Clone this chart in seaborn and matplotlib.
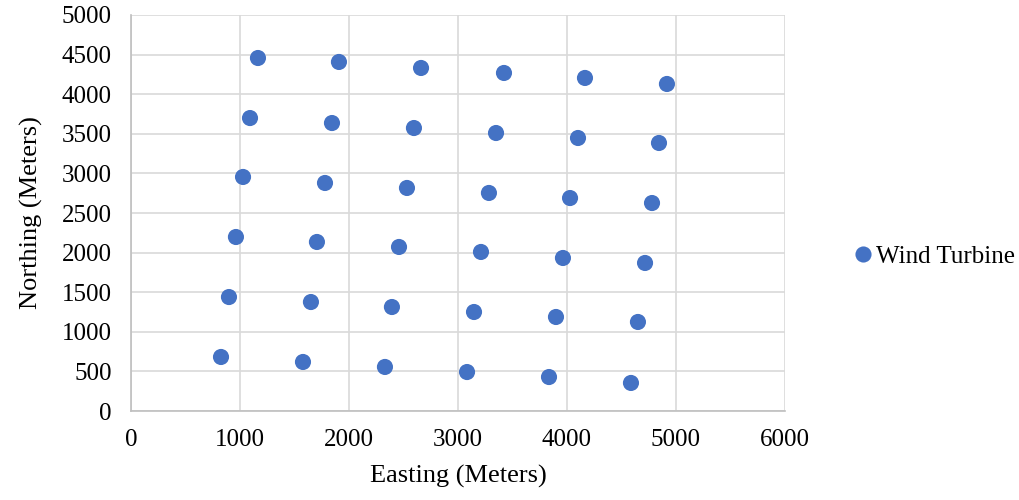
import matplotlib
matplotlib.use("Agg")
import matplotlib.pyplot as plt
import seaborn as sns
import pandas as pd

# turbine positions (meters)
easting = [1165, 1908, 2661, 3422, 4165, 4917,
           1092, 1844, 2596, 3349, 4101, 4844,
           1028, 1780, 2532, 3284, 4028, 4780,
           963, 1706, 2459, 3211, 3963, 4716,
           899, 1651, 2394, 3147, 3899, 4651,
           826, 1578, 2330, 3083, 3835, 4587]
northing = [4457, 4407, 4331, 4268, 4205, 4129,
            3699, 3636, 3573, 3510, 3447, 3384,
            2955, 2879, 2816, 2753, 2689, 2626,
            2197, 2134, 2071, 2008, 1932, 1869,
            1439, 1376, 1313, 1250, 1187, 1124,
            682, 619, 556, 492, 429, 354]
series_name = "Wind Turbine"
x_ticks = [0, 1000, 2000, 3000, 4000, 5000, 6000]
y_ticks = [0, 500, 1000, 1500, 2000, 2500, 3000, 3500, 4000, 4500, 5000]

df = pd.DataFrame({"Easting": easting, "Northing": northing, "Series": series_name})

sns.set_style("white", {"text.color": "black", "axes.labelcolor": "black",
                        "xtick.color": "black", "ytick.color": "black"})
plt.rcParams["font.family"] = ["Liberation Serif", "DejaVu Serif"]

fig = plt.figure(figsize=(10.2, 5.0), dpi=100)
ax = fig.add_axes([0.1284, 0.178, 0.6412, 0.792])

sns.scatterplot(data=df, x="Easting", y="Northing", hue="Series",
                palette=["#4472C4"], s=135, edgecolor="none", ax=ax, zorder=3)

ax.set_xlim(0, 6000)
ax.set_ylim(0, 5000)
ax.set_xticks(x_ticks)
ax.set_yticks(y_ticks)
ax.tick_params(axis="y", labelsize=18, length=0, pad=14, labelcolor="black")
ax.tick_params(axis="x", labelsize=18, length=0, pad=13, labelcolor="black")
ax.grid(True, color="#d9d9d9", linewidth=1.2, zorder=0)
ax.set_axisbelow(True)
for side in ["top", "right"]:
    ax.spines[side].set_visible(False)
for side in ["left", "bottom"]:
    ax.spines[side].set_color("#bfbfbf")
    ax.spines[side].set_linewidth(1.2)

ax.set_xlabel("Easting (Meters)", fontsize=19, labelpad=10, color="black")
ax.set_ylabel("Northing (Meters)", fontsize=19, labelpad=13, color="black")

leg = ax.legend(title=None, loc="center left", bbox_to_anchor=(1.097, 0.39),
                frameon=False, fontsize=18, handletextpad=-0.1, markerscale=1.0,
                borderaxespad=0, borderpad=0, handlelength=1.2)
for t in leg.get_texts():
    t.set_color("black")

fig.savefig("out.png", dpi=100)
